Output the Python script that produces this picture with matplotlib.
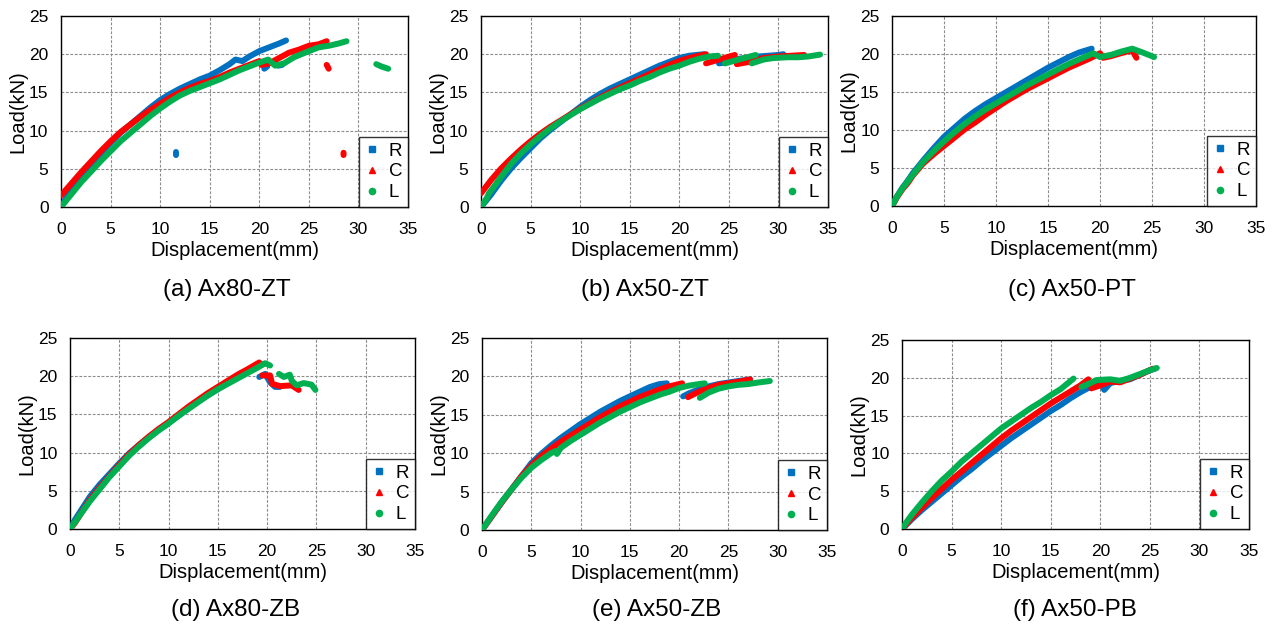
import numpy as np
import matplotlib
matplotlib.use("Agg")
import matplotlib.pyplot as plt
from matplotlib.lines import Line2D

plt.rcParams['font.family'] = ['Liberation Sans', 'DejaVu Sans']

# ---------------------------------------------------------------
# Load-displacement records (displacement mm, load kN).
# None marks a break between separate recorded segments.
# ---------------------------------------------------------------
AX80_ZT_R = [(0, 0), (0.5, 1.1), (1, 2.1), (2, 4.0), (3, 5.6), (4, 7.0), (5, 8.4), (6, 9.7),
             (7, 10.8), (8, 11.9), (9, 13.0), (10, 14.0), (11, 14.8), (12, 15.5), (13, 16.1),
             (14, 16.7), (15, 17.2), (16, 17.9), (17, 18.7), (17.6, 19.3), (18.3, 19.1),
             (19, 19.7), (20, 20.4), (21, 20.9), (22, 21.4), (22.7, 21.8),
             None, (20.5, 18.1), (20.8, 18.4), None, (21.9, 18.5), (22.3, 18.6),
             None, (11.6, 6.8), (11.6, 7.2)]
AX80_ZT_C = [(0, 1.5), (1, 3.0), (2, 4.5), (3, 5.9), (4, 7.3), (5, 8.6), (6, 9.8), (7, 10.8),
             (8, 11.8), (9, 12.7), (10, 13.5), (11, 14.3), (12, 15.0), (13, 15.6), (14, 16.1),
             (15, 16.5), (16, 17.0), (17, 17.6), (18, 18.1), (19, 18.6), (20, 19.1),
             (20.2, 18.6), (21, 18.8), (22, 19.5), (23, 20.2), (24, 20.6), (25, 21.1),
             (26, 21.3), (26.8, 21.7),
             None, (26.8, 18.6), (27.0, 18.1), None, (28.5, 6.8), (28.5, 7.1)]
AX80_ZT_L = [(0, 0), (1, 1.6), (2, 3.2), (3, 4.6), (4, 6.0), (5, 7.3), (6, 8.6), (7, 9.7),
             (8, 10.8), (9, 11.9), (10, 12.9), (11, 13.8), (12, 14.6), (13, 15.2), (14, 15.7),
             (15, 16.2), (16, 16.7), (17, 17.3), (18, 17.9), (19, 18.4), (20, 18.9),
             (20.9, 19.3), (21.6, 18.5), (22.5, 18.8), (23.5, 19.6), (25, 20.4), (26, 20.9),
             (27, 21.1), (28, 21.4), (28.8, 21.7),
             None, (31.8, 18.7), (32.3, 18.4), (33.0, 18.1)]

AX50_ZT_R = [(0, 0), (1, 1.6), (2, 3.4), (3, 5.0), (4, 6.4), (5, 7.7), (6, 9.0), (7, 10.1),
             (8, 11.1), (9, 12.1), (10, 13.1), (11, 14.0), (12, 14.8), (13, 15.5), (14, 16.1),
             (15, 16.7), (16, 17.3), (17, 17.9), (18, 18.5), (19, 19.0), (20, 19.5),
             (21, 19.8), (22.5, 20.0),
             None, (24.0, 18.8), (24.6, 18.9), (26, 19.4), (28, 19.7), (30, 19.9), (30.5, 20.0)]
AX50_ZT_C = [(0, 1.8), (1, 3.5), (2, 5.0), (3, 6.3), (4, 7.5), (5, 8.6), (6, 9.6), (7, 10.5),
             (8, 11.3), (9, 12.1), (10, 12.9), (11, 13.6), (12, 14.3), (13, 15.0), (14, 15.6),
             (15, 16.2), (16, 16.8), (17, 17.4), (18, 18.0), (19, 18.6), (20, 19.1),
             (21, 19.5), (22.7, 20.0),
             None, (22.7, 18.8), (24, 19.3), (25.6, 19.9),
             None, (25.8, 18.7), (27.5, 19.1), (28.5, 19.5), (30, 19.7), (32.6, 19.9)]
AX50_ZT_L = [(0, 0), (0.3, 0.6), (0.6, 1.2), (0.8, 1.8), (1.5, 3.0), (2, 3.9), (3, 5.6),
             (4, 7.0), (5, 8.2), (6, 9.3), (7, 10.3), (8, 11.2), (9, 12.0), (10, 12.8),
             (11, 13.5), (12, 14.2), (13, 14.8), (14, 15.4), (15, 15.9), (16, 16.5),
             (17, 17.0), (18, 17.6), (19, 18.1), (20, 18.5), (21, 19.0), (22, 19.4),
             (23, 19.7), (23.9, 19.8),
             None, (24.6, 18.8), (26, 19.3), (27.7, 19.9),
             None, (27.3, 18.8), (28.5, 19.3), (29.5, 19.5), (31, 19.6), (32, 19.6),
             (33, 19.7), (34.2, 19.95)]

AX50_PT_R = [(0, 0), (0.5, 1.3), (1, 2.4), (1.5, 3.3), (2, 4.3), (3, 6.0), (4, 7.6), (5, 9.1),
             (6, 10.3), (7, 11.5), (8, 12.5), (9, 13.4), (10, 14.2), (11, 15.0), (12, 15.8),
             (13, 16.6), (14, 17.4), (15, 18.2), (16, 18.9), (17, 19.6), (18, 20.2),
             (19.2, 20.7)]
AX50_PT_C = [(0, 0), (0.5, 1.2), (1, 2.2), (1.5, 3.0), (2, 4.0), (3, 5.6), (4, 6.8), (5, 7.9),
             (6, 9.0), (7, 10.1), (8, 11.0), (9, 12.0), (10, 12.9), (11, 13.8), (12, 14.6),
             (13, 15.4), (14, 16.1), (15, 16.8), (16, 17.5), (17, 18.2), (18, 18.8),
             (19, 19.4), (20, 20.1), (20.3, 19.5), (21, 19.7), (22, 20.1), (23.1, 20.5),
             (23.5, 19.5)]
AX50_PT_L = [(0, 0), (0.5, 1.3), (1, 2.3), (1.5, 3.2), (2, 4.1), (3, 5.8), (4, 7.2), (5, 8.5),
             (6, 9.7), (7, 10.8), (8, 11.8), (9, 12.7), (10, 13.5), (11, 14.3), (12, 15.1),
             (13, 15.9), (14, 16.6), (15, 17.3), (16, 18.0), (17, 18.7), (18, 19.3),
             (19.35, 20.1), (20, 19.6), (21.1, 19.9), (22, 20.3), (23.1, 20.7), (24.1, 20.2),
             (25.2, 19.6)]

AX80_ZB_R = [(0, 0), (0.5, 1.2), (1, 2.2), (2, 4.2), (3, 5.8), (4, 7.2), (5, 8.6), (6, 9.9),
             (7, 11.0), (8, 12.0), (9, 13.0), (10, 13.9), (11, 14.8), (12, 15.8), (13, 16.7),
             (14, 17.5), (15, 18.3), (16, 19.1), (17, 19.9), (18, 20.6), (19, 21.3),
             (19.6, 21.6),
             None, (19.2, 19.9), (19.8, 20.3), (20.3, 19.2), (20.8, 18.6), (21.3, 18.6)]
AX80_ZB_C = [(0, 0), (0.5, 0.8), (1, 1.8), (2, 3.8), (3, 5.4), (4, 6.9), (5, 8.4), (6, 9.8),
             (7, 11.0), (8, 12.1), (9, 13.1), (10, 14.0), (11, 15.0), (12, 16.0), (13, 16.9),
             (14, 17.8), (15, 18.6), (16, 19.4), (17, 20.2), (18, 20.9), (19.2, 21.8),
             None, (19.5, 20.1), (20.3, 20.1), (20.5, 19.0), (21.3, 18.7), (22.5, 18.8),
             (23.2, 18.2)]
AX80_ZB_L = [(0, 0), (0.5, 0.9), (1, 1.8), (2, 3.6), (3, 5.2), (4, 6.8), (5, 8.2), (6, 9.6),
             (7, 10.8), (8, 11.9), (9, 12.9), (10, 13.8), (11, 14.8), (12, 15.7), (13, 16.6),
             (14, 17.5), (15, 18.3), (16, 19.0), (17, 19.7), (18, 20.4), (19, 21.1),
             (19.8, 21.7), (20.3, 21.4),
             None, (21.2, 20.3), (21.7, 19.9), (22.3, 20.2), (22.5, 19.4), (23.0, 18.8),
             (23.7, 19.1), (24.5, 18.9), (24.9, 18.2)]

AX50_ZB_R = [(0, 0), (1, 1.8), (2, 3.6), (3, 5.3), (4, 7.0), (5, 8.7), (6, 9.9), (7, 11.0),
             (8, 12.0), (9, 12.9), (10, 13.8), (11, 14.6), (12, 15.4), (13, 16.1), (14, 16.8),
             (15, 17.4), (16, 18.0), (17, 18.6), (18, 19.0), (18.75, 19.1),
             None, (20.4, 17.4), (21, 17.8), (22, 18.3), (23, 18.7), (24, 19.0), (25, 19.2),
             (26, 19.4), (27.2, 19.6)]
AX50_ZB_C = [(0, 0), (1, 1.8), (2, 3.6), (3, 5.3), (4, 7.0), (5, 8.4), (6, 9.6), (7, 10.6),
             (8, 11.5), (9, 12.3), (10, 13.1), (11, 13.9), (12, 14.7), (13, 15.4), (14, 16.1),
             (15, 16.7), (16, 17.3), (17, 17.8), (18, 18.3), (19, 18.7), (20.3, 19.1),
             None, (20.9, 17.3), (22, 18.0), (23, 18.5), (24, 18.9), (25, 19.1), (26, 19.3),
             (27.2, 19.6)]
AX50_ZB_L = [(0, 0), (1, 1.9), (2, 3.7), (3, 5.3), (4, 6.8), (5, 8.1), (6, 9.1), (7, 10.0),
             (7.5, 10.3), (7.6, 9.9), (8, 10.7), (9, 11.6), (10, 12.4), (11, 13.2), (12, 14.0),
             (13, 14.7), (14, 15.4), (15, 16.0), (16, 16.6), (17, 17.1), (18, 17.6),
             (19, 18.0), (20, 18.5), (21, 18.8), (22, 19.0), (22.6, 19.1),
             None, (22.1, 17.2), (23, 17.9), (24, 18.4), (25, 18.7), (26, 18.9), (27, 19.0),
             (28, 19.2), (29.2, 19.4)]

AX50_PB_R = [(0, 0), (1, 1.3), (2, 2.5), (3, 3.6), (4, 4.7), (5, 5.8), (6, 6.9), (7, 7.9),
             (8, 9.0), (9, 10.0), (10, 11.0), (11, 12.0), (12, 12.9), (13, 13.8), (14, 14.7),
             (15, 15.6), (16, 16.4), (17, 17.3), (18, 18.1), (19, 18.8), (20, 19.5),
             (20.4, 18.4), (21, 19.3), (22, 19.6), (23, 19.8), (24, 20.4), (25, 21.0),
             (25.5, 21.2)]
AX50_PB_C = [(0, 0), (1, 1.5), (2, 2.8), (3, 4.1), (4, 5.3), (5, 6.5), (6, 7.6), (7, 8.7),
             (8, 9.8), (9, 10.9), (10, 12.0), (11, 13.0), (12, 13.9), (13, 14.8), (14, 15.7),
             (15, 16.6), (16, 17.4), (17, 18.2), (18, 19.0), (18.8, 19.8),
             None, (19.1, 18.6), (20, 19.0), (21, 19.5), (22, 19.4), (23, 19.9), (24, 20.4),
             (25.3, 21.2)]
AX50_PB_L = [(0, 0), (0.5, 1.0), (1, 1.9), (2, 3.5), (3, 5.0), (4, 6.4), (5, 7.6), (6, 8.9),
             (7, 10.0), (8, 11.1), (9, 12.2), (10, 13.3), (11, 14.2), (12, 15.1), (13, 16.0),
             (14, 16.8), (15, 17.7), (16, 18.5), (17.3, 19.9),
             None, (18.1, 18.8), (19, 19.3), (19.6, 19.7), (21, 19.8), (22, 19.6), (23, 20.0),
             (24, 20.5), (25, 21.0), (25.7, 21.3)]

SPECIMENS = ["(a) Ax80-ZT", "(b) Ax50-ZT", "(c) Ax50-PT",
             "(d) Ax80-ZB", "(e) Ax50-ZB", "(f) Ax50-PB"]
SERIES_NAMES = ["R", "C", "L"]
X_TICKS = [0, 5, 10, 15, 20, 25, 30, 35]
Y_TICKS = [0, 5, 10, 15, 20, 25]

RECORDS = [
    (AX80_ZT_R, AX80_ZT_C, AX80_ZT_L),
    (AX50_ZT_R, AX50_ZT_C, AX50_ZT_L),
    (AX50_PT_R, AX50_PT_C, AX50_PT_L),
    (AX80_ZB_R, AX80_ZB_C, AX80_ZB_L),
    (AX50_ZB_R, AX50_ZB_C, AX50_ZB_L),
    (AX50_PB_R, AX50_PB_C, AX50_PB_L),
]

COLORS = ["#0070C0", "#FF0000", "#00B050"]
MARKERS = ["s", "^", "o"]

W, H = 1276, 630
# axes boxes in pixels: left, top, right, bottom
BOXES = [(61, 16, 408, 207), (481, 16, 828, 207), (892, 16, 1256, 206),
         (70, 338, 415, 529), (482, 338, 827, 530), (902, 340, 1249, 529)]
CAPTION_POS = [(227, 290), (645, 290), (1072, 290),
               (236, 610), (657, 610), (1075, 610)]


def to_xy(points):
    xs = [np.nan if p is None else p[0] for p in points]
    ys = [np.nan if p is None else p[1] for p in points]
    return np.array(xs, float), np.array(ys, float)


fig = plt.figure(figsize=(W / 100, H / 100), dpi=100)

for (l, t, r, b), series, caption, (cx, cy) in zip(BOXES, RECORDS, SPECIMENS, CAPTION_POS):
    ax = fig.add_axes([l / W, 1 - b / H, (r - l) / W, (b - t) / H])
    for pts, color in zip(series, COLORS):
        x, y = to_xy(pts)
        ax.plot(x, y, color=color, lw=4.3, solid_capstyle="round",
                solid_joinstyle="round", zorder=3)

    ax.set_xlim(0, 35)
    ax.set_ylim(0, 25)
    ax.set_xticks(X_TICKS)
    ax.set_yticks(Y_TICKS)
    ax.tick_params(axis="x", length=0, labelsize=12.5, pad=11)
    ax.tick_params(axis="y", length=0, labelsize=12.5, pad=9)
    ax.grid(True, color="#8c8c8c", lw=0.8, ls=(0, (2.5, 1.5)))
    ax.set_axisbelow(True)
    for s in ax.spines.values():
        s.set_color("black")
        s.set_linewidth(1.0)
    ax.set_xlabel("Displacement(mm)", fontsize=14.5, labelpad=3)
    ax.set_ylabel("Load(kN)", fontsize=14.5, labelpad=1)

    handles = [Line2D([], [], ls="none", marker=m, color=c, ms=4.5)
               for m, c in zip(MARKERS, COLORS)]
    leg = ax.legend(handles, SERIES_NAMES, loc="lower right", fontsize=13.5,
                    frameon=True, fancybox=False, borderaxespad=0,
                    handlelength=0.8, handletextpad=0.5, labelspacing=0.2,
                    borderpad=0.3)
    leg.get_frame().set_edgecolor("black")
    leg.get_frame().set_linewidth(1.0)

    fig.text(cx / W, 1 - cy / H, caption, fontsize=17.5, ha="center", va="center")

fig.savefig("out.png", dpi=100, facecolor="white")
